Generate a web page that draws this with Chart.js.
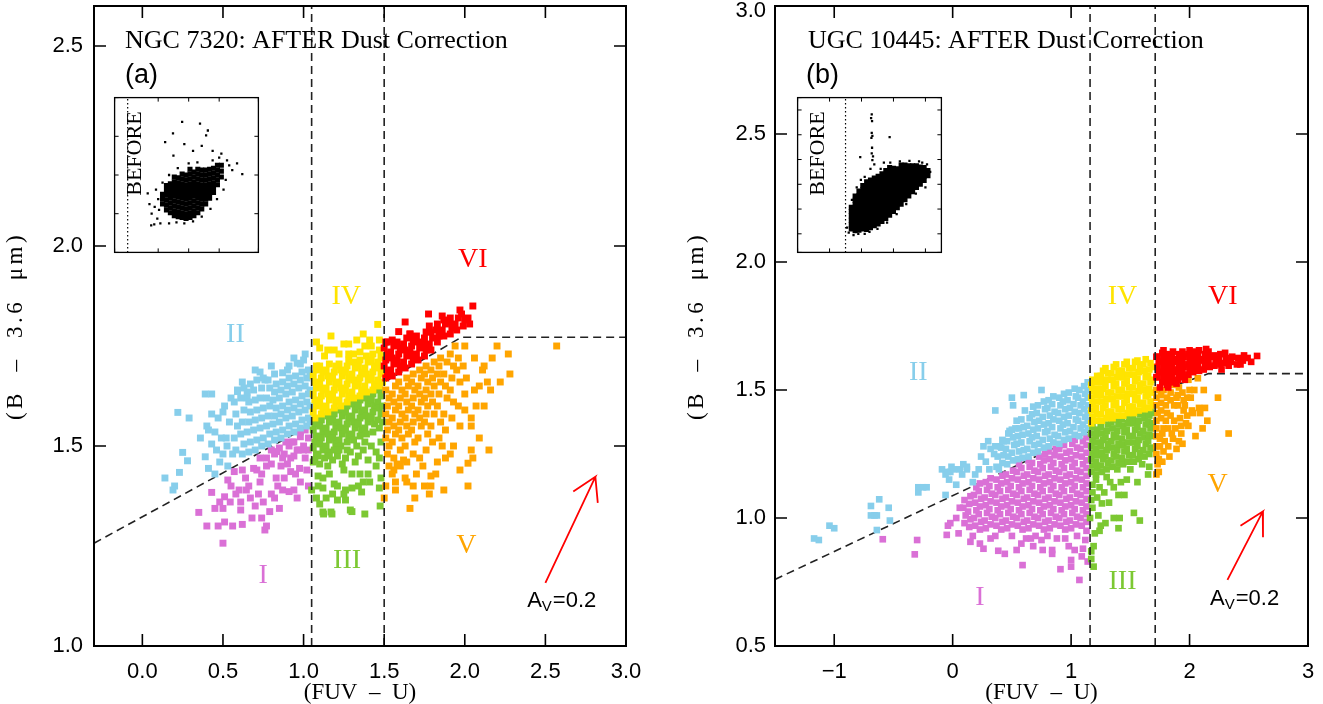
<!DOCTYPE html>
<html>
<head>
<meta charset="utf-8">
<script src="https://cdn.jsdelivr.net/npm/chart.js@4.4.0/dist/chart.umd.min.js"></script>
<style>
  body { margin: 0; background: #fff; width: 1323px; height: 704px; overflow: hidden; position: relative; }
  canvas { position: absolute; }
  .inset { background: #fff; }
</style>
</head>
<body>
<canvas id="ngc" width="660" height="704" style="left:0;top:0"></canvas>
<canvas id="ugc" width="663" height="704" style="left:660px;top:0"></canvas>
<canvas id="ngcIn" class="inset" width="151" height="162" style="left:111px;top:94px"></canvas>
<canvas id="ugcIn" class="inset" width="151" height="162" style="left:794px;top:94px"></canvas>
<script>
// ---- panel (a) NGC 7320, points as [FUV-U, B-3.6um] ----
const ngcII = [
  [0.14,1.42],[0.19,1.39],[0.20,1.40],[0.23,1.434],[0.25,1.484],[0.28,1.463],[0.22,1.584],[0.29,1.57],[0.39,1.63],[0.43,1.63],
  [0.39,1.473],[0.41,1.444],[0.45,1.43],[0.36,1.52],[0.40,1.55],[0.41,1.54],[0.43,1.58],[0.43,1.505],[0.49,1.52],[0.52,1.52],
  [0.525,1.50],[0.50,1.48],[0.48,1.46],[0.53,1.45],[0.59,1.636],[0.65,1.62],[0.76,1.665],[0.87,1.683],[0.94,1.72],[1.01,1.73],
  [0.96,1.707],[0.46,1.49],[0.47,1.57],[0.51,1.60],[0.54,1.56],[0.55,1.62],[0.50,1.585],[0.45,1.535],[0.56,1.48],[0.70,1.69],
  [0.80,1.70],[0.91,1.70],[1.00,1.715],[0.62,1.66],[0.73,1.685],
  [0.58,1.49],[0.57,1.52],[0.59,1.55],[0.58,1.58],[0.57,1.61],[0.59,1.64],
  [0.62,1.48],[0.63,1.505],[0.61,1.53],[0.62,1.56],[0.63,1.59],[0.61,1.62],[0.63,1.645],
  [0.66,1.485],[0.67,1.51],[0.65,1.535],[0.66,1.56],[0.67,1.585],[0.66,1.61],[0.65,1.635],[0.67,1.655],
  [0.70,1.49],[0.71,1.515],[0.69,1.54],[0.70,1.565],[0.71,1.59],[0.70,1.615],[0.69,1.64],[0.71,1.665],
  [0.74,1.50],[0.75,1.52],[0.73,1.545],[0.74,1.57],[0.75,1.595],[0.73,1.62],[0.74,1.645],[0.75,1.67],
  [0.78,1.505],[0.79,1.53],[0.77,1.55],[0.78,1.575],[0.79,1.60],[0.77,1.62],[0.79,1.645],[0.78,1.665],
  [0.82,1.515],[0.83,1.535],[0.81,1.555],[0.82,1.575],[0.83,1.595],[0.81,1.615],[0.82,1.635],[0.83,1.655],[0.82,1.68],
  [0.86,1.52],[0.87,1.54],[0.85,1.56],[0.86,1.58],[0.87,1.60],[0.85,1.62],[0.86,1.64],[0.87,1.66],
  [0.90,1.53],[0.91,1.55],[0.89,1.57],[0.90,1.59],[0.91,1.61],[0.89,1.63],[0.90,1.65],[0.91,1.67],[0.90,1.69],
  [0.94,1.535],[0.95,1.555],[0.93,1.575],[0.94,1.595],[0.95,1.615],[0.93,1.635],[0.94,1.655],[0.95,1.675],
  [0.98,1.545],[0.99,1.565],[0.97,1.585],[0.98,1.605],[0.99,1.625],[0.97,1.645],[0.98,1.665],[0.99,1.685],[0.98,1.705],
  [1.02,1.55],[1.03,1.57],[1.01,1.59],[1.02,1.61],[1.03,1.63],[1.01,1.65],[1.02,1.67],[1.03,1.69],
  [1.04,1.56],[1.04,1.60],[1.04,1.64],[1.04,1.68]
];
const ngcI = [
  [0.50,1.257],[0.35,1.334],[0.40,1.30],[0.47,1.30],[0.51,1.31],[0.56,1.30],[0.62,1.304],[0.76,1.29],[0.77,1.30],[0.74,1.32],
  [0.43,1.384],[0.45,1.344],[0.50,1.344],[0.51,1.373],[0.545,1.36],[0.61,1.34],[0.61,1.36],[0.645,1.39],[0.67,1.37],[0.70,1.35],
  [0.72,1.38],[0.75,1.36],[0.79,1.336],[0.80,1.38],[0.85,1.344],[0.87,1.39],[0.91,1.386],[0.94,1.39],[0.98,1.41],[0.53,1.415],
  [0.57,1.436],[0.69,1.444],[0.71,1.44],[0.77,1.45],[0.80,1.455],[0.86,1.45],[0.90,1.455],[0.92,1.436],[0.975,1.444],[0.835,1.486],
  [0.87,1.47],[0.80,1.49],[0.77,1.47],[0.91,1.50],[0.94,1.51],[0.98,1.523],[1.00,1.50],[1.01,1.54],[0.98,1.535],[1.00,1.49],
  [0.96,1.49],[0.82,1.48],[0.85,1.495],[0.88,1.48],[0.94,1.475],[0.97,1.49],[1.03,1.52],[1.03,1.49],[1.01,1.47],[0.93,1.51],
  [0.64,1.42],[0.66,1.40],[0.60,1.39],[0.73,1.41],[0.74,1.43],[0.83,1.42],[0.88,1.42],[0.95,1.43],[1.02,1.44],[0.58,1.38],
  [0.68,1.32],[0.82,1.37],[0.96,1.37],[1.03,1.40],[0.73,1.47],[0.62,1.44],[0.92,1.47],[0.89,1.51],[0.84,1.40],[0.55,1.40],[0.48,1.36]
];
const ngcIV = [
  [1.07,1.57],[1.06,1.585],[1.08,1.60],[1.07,1.615],[1.06,1.63],[1.08,1.645],[1.07,1.66],[1.06,1.675],[1.08,1.69],
  [1.11,1.58],[1.12,1.595],[1.10,1.61],[1.11,1.625],[1.12,1.64],[1.10,1.655],[1.11,1.67],[1.12,1.685],[1.10,1.70],
  [1.15,1.585],[1.14,1.60],[1.16,1.615],[1.15,1.63],[1.14,1.645],[1.16,1.66],[1.15,1.675],[1.14,1.69],[1.16,1.705],
  [1.19,1.595],[1.20,1.61],[1.18,1.625],[1.19,1.64],[1.20,1.655],[1.18,1.67],[1.19,1.685],[1.20,1.70],
  [1.23,1.60],[1.22,1.615],[1.24,1.63],[1.23,1.645],[1.22,1.66],[1.24,1.675],[1.23,1.69],[1.22,1.705],
  [1.27,1.61],[1.28,1.625],[1.26,1.64],[1.27,1.655],[1.28,1.67],[1.26,1.685],[1.27,1.70],[1.28,1.715],
  [1.31,1.62],[1.30,1.635],[1.32,1.65],[1.31,1.665],[1.30,1.68],[1.32,1.695],[1.31,1.71],
  [1.35,1.625],[1.36,1.64],[1.34,1.655],[1.35,1.67],[1.36,1.685],[1.34,1.70],[1.35,1.715],
  [1.39,1.635],[1.38,1.65],[1.40,1.665],[1.39,1.68],[1.38,1.695],[1.40,1.71],[1.39,1.725],
  [1.43,1.64],[1.44,1.655],[1.42,1.67],[1.43,1.685],[1.44,1.70],[1.42,1.715],[1.43,1.73],
  [1.47,1.65],[1.46,1.665],[1.48,1.68],[1.47,1.695],[1.46,1.71],[1.48,1.725],[1.47,1.74],
  [1.49,1.66],[1.49,1.69],[1.49,1.72],
  [1.46,1.804],[1.08,1.76],[1.15,1.74],[1.19,1.74],[1.25,1.755],[1.28,1.755],[1.33,1.765],[1.41,1.765],[1.47,1.765],[1.38,1.75],
  [1.42,1.75],[1.13,1.725],[1.08,1.70],[1.28,1.73],[1.31,1.73],[1.35,1.735],[1.10,1.745],[1.22,1.73],[1.17,1.775],[1.37,1.78]
];
const ngcIII = [
  [1.07,1.555],[1.06,1.54],[1.08,1.525],[1.07,1.51],[1.06,1.495],[1.08,1.48],
  [1.11,1.565],[1.10,1.55],[1.12,1.535],[1.11,1.52],[1.10,1.505],[1.12,1.49],
  [1.15,1.575],[1.16,1.56],[1.14,1.545],[1.15,1.53],[1.16,1.515],[1.14,1.50],[1.15,1.485],
  [1.19,1.58],[1.18,1.565],[1.20,1.55],[1.19,1.535],[1.18,1.52],[1.20,1.505],[1.19,1.49],
  [1.23,1.59],[1.24,1.575],[1.22,1.56],[1.23,1.545],[1.24,1.53],[1.22,1.515],[1.23,1.50],
  [1.27,1.60],[1.26,1.585],[1.28,1.57],[1.27,1.555],[1.26,1.54],[1.28,1.525],[1.27,1.51],
  [1.31,1.605],[1.32,1.59],[1.30,1.575],[1.31,1.56],[1.32,1.545],[1.30,1.53],[1.31,1.515],
  [1.35,1.615],[1.34,1.60],[1.36,1.585],[1.35,1.57],[1.34,1.555],[1.36,1.54],[1.35,1.525],
  [1.39,1.62],[1.40,1.605],[1.38,1.59],[1.39,1.575],[1.40,1.56],[1.38,1.545],[1.39,1.53],
  [1.43,1.63],[1.42,1.615],[1.44,1.60],[1.43,1.585],[1.42,1.57],[1.44,1.555],[1.43,1.535],
  [1.47,1.64],[1.48,1.625],[1.46,1.61],[1.47,1.595],[1.48,1.58],[1.46,1.565],[1.47,1.545],
  [1.49,1.60],[1.49,1.56],
  [1.07,1.465],[1.10,1.455],[1.13,1.47],[1.15,1.45],[1.18,1.465],[1.21,1.475],[1.24,1.455],[1.26,1.47],[1.29,1.485],[1.32,1.46],
  [1.34,1.475],[1.37,1.49],[1.40,1.465],[1.42,1.50],[1.45,1.485],[1.48,1.51],[1.47,1.47],[1.38,1.51],[1.33,1.50],[1.27,1.49],
  [1.22,1.49],[1.16,1.475],[1.09,1.475],
  [1.06,1.46],[1.12,1.42],[1.09,1.425],[1.16,1.43],[1.19,1.405],[1.25,1.44],[1.30,1.43],[1.35,1.43],[1.40,1.43],[1.45,1.45],
  [1.48,1.42],[1.37,1.41],[1.34,1.40],[1.30,1.395],[1.26,1.39],[1.21,1.40],[1.18,1.38],[1.12,1.395],[1.09,1.40],[1.05,1.39],
  [1.08,1.37],[1.14,1.37],[1.21,1.365],[1.26,1.365],[1.36,1.385],[1.47,1.395],[1.475,1.35],[1.12,1.335],[1.17,1.335],[1.29,1.34],
  [1.38,1.33],[1.25,1.38],[1.41,1.41],[1.10,1.355],[1.124,1.33],[1.176,1.33],[1.30,1.336]
];
const ngcVI = [
  [1.51,1.67],[1.52,1.685],[1.50,1.70],[1.51,1.715],[1.52,1.73],[1.50,1.745],[1.51,1.76],
  [1.55,1.675],[1.54,1.69],[1.56,1.705],[1.55,1.72],[1.54,1.735],[1.56,1.75],[1.55,1.765],
  [1.59,1.685],[1.60,1.70],[1.58,1.715],[1.59,1.73],[1.60,1.745],[1.58,1.76],
  [1.63,1.695],[1.62,1.71],[1.64,1.725],[1.63,1.74],[1.62,1.755],[1.64,1.77],
  [1.67,1.705],[1.68,1.72],[1.66,1.735],[1.67,1.75],[1.68,1.765],[1.66,1.78],
  [1.71,1.715],[1.70,1.73],[1.72,1.745],[1.71,1.76],[1.70,1.775],
  [1.75,1.725],[1.76,1.74],[1.74,1.755],[1.75,1.77],[1.76,1.785],
  [1.79,1.74],[1.78,1.755],[1.80,1.77],[1.79,1.785],[1.78,1.80],
  [1.83,1.76],[1.84,1.775],[1.82,1.79],[1.83,1.805],
  [1.87,1.775],[1.86,1.79],[1.88,1.805],[1.87,1.815],
  [1.91,1.78],[1.92,1.795],[1.90,1.81],[1.91,1.82],
  [1.95,1.79],[1.94,1.805],[1.96,1.82],
  [1.99,1.80],[2.00,1.815],[1.98,1.83],
  [2.03,1.805],[2.02,1.82],
  [2.05,1.85],[1.775,1.83],[1.86,1.825],[1.63,1.81],[1.59,1.786],[1.66,1.78],[1.52,1.76],[1.97,1.84]
];
const ngcV = [
  [1.52,1.48],[1.53,1.50],[1.51,1.52],[1.52,1.54],[1.53,1.56],[1.51,1.58],[1.52,1.60],[1.53,1.62],[1.51,1.64],
  [1.56,1.47],[1.55,1.51],[1.57,1.53],[1.56,1.55],[1.55,1.57],[1.57,1.59],[1.56,1.61],[1.55,1.63],[1.57,1.65],
  [1.60,1.49],[1.61,1.52],[1.59,1.54],[1.60,1.56],[1.61,1.58],[1.59,1.60],[1.60,1.62],[1.61,1.64],[1.59,1.66],
  [1.64,1.46],[1.63,1.50],[1.65,1.53],[1.64,1.55],[1.63,1.57],[1.65,1.59],[1.64,1.61],[1.63,1.63],[1.65,1.65],[1.64,1.67],
  [1.68,1.48],[1.69,1.51],[1.67,1.54],[1.68,1.56],[1.69,1.58],[1.67,1.60],[1.68,1.62],[1.69,1.64],[1.67,1.66],[1.68,1.68],
  [1.72,1.47],[1.71,1.52],[1.73,1.55],[1.72,1.57],[1.71,1.59],[1.73,1.61],[1.72,1.63],[1.71,1.65],[1.73,1.67],[1.72,1.69],
  [1.76,1.49],[1.77,1.53],[1.75,1.56],[1.76,1.58],[1.77,1.60],[1.75,1.62],[1.76,1.64],[1.77,1.66],[1.75,1.68],[1.76,1.70],
  [1.80,1.51],[1.79,1.55],[1.81,1.58],[1.80,1.61],[1.79,1.63],[1.81,1.65],[1.80,1.67],[1.79,1.69],[1.81,1.71],
  [1.84,1.52],[1.85,1.56],[1.83,1.60],[1.84,1.63],[1.85,1.66],[1.83,1.68],[1.84,1.70],[1.85,1.72],
  [1.88,1.54],[1.87,1.58],[1.89,1.62],[1.88,1.65],[1.87,1.68],[1.89,1.71],
  [1.92,1.57],[1.93,1.61],[1.91,1.64],[1.92,1.67],[1.93,1.70],[1.91,1.73],
  [1.96,1.60],[1.97,1.66],[1.95,1.69],[1.96,1.72],
  [2.00,1.63],[2.01,1.67],[1.99,1.70],
  [2.20,1.75],[2.27,1.73],[2.28,1.68],[2.22,1.66],[2.17,1.72],[2.11,1.69],[2.14,1.66],[2.16,1.64],[2.06,1.64],[2.07,1.60],
  [2.04,1.57],[2.04,1.55],[2.15,1.49],[2.04,1.49],[2.05,1.47],[2.02,1.457],[1.97,1.44],[2.02,1.40],[1.87,1.39],[1.78,1.38],
  [1.68,1.40],[1.69,1.37],[1.66,1.344],[1.50,1.37],[1.51,1.40],[1.57,1.39],[1.57,1.41],[1.63,1.42],[1.64,1.41],[1.56,1.44],
  [1.79,1.425],[1.79,1.40],[1.82,1.43],[2.57,1.75],[1.55,1.43],[1.60,1.45],[1.70,1.43],[1.74,1.45],[1.83,1.46],[1.88,1.47],
  [1.58,1.455],[1.53,1.45],[1.62,1.465],[1.75,1.40],[1.93,1.50],[1.97,1.55],[2.00,1.59],[2.09,1.65],[2.12,1.70],[2.06,1.72],
  [1.94,1.75],[2.00,1.75],[2.12,1.60],[1.91,1.48],[1.86,1.50],[2.09,1.52]
];
const ngcBeforeCore = [
  [0.80,1.50],[0.80,1.55],[0.80,1.60],
  [0.89,1.44],[0.89,1.49],[0.89,1.54],[0.89,1.59],[0.89,1.64],[0.89,1.69],
  [0.98,1.41],[0.98,1.46],[0.98,1.51],[0.98,1.56],[0.98,1.61],[0.98,1.66],[0.98,1.71],
  [1.07,1.38],[1.07,1.43],[1.07,1.48],[1.07,1.53],[1.07,1.58],[1.07,1.63],[1.07,1.68],[1.07,1.73],[1.07,1.78],
  [1.16,1.37],[1.16,1.42],[1.16,1.47],[1.16,1.52],[1.16,1.57],[1.16,1.62],[1.16,1.67],[1.16,1.72],[1.16,1.77],
  [1.25,1.36],[1.25,1.41],[1.25,1.46],[1.25,1.51],[1.25,1.56],[1.25,1.61],[1.25,1.66],[1.25,1.71],[1.25,1.76],[1.25,1.81],
  [1.34,1.35],[1.34,1.40],[1.34,1.45],[1.34,1.50],[1.34,1.55],[1.34,1.60],[1.34,1.65],[1.34,1.70],[1.34,1.75],[1.34,1.80],
  [1.43,1.36],[1.43,1.41],[1.43,1.46],[1.43,1.51],[1.43,1.56],[1.43,1.61],[1.43,1.66],[1.43,1.71],[1.43,1.76],[1.43,1.81],[1.43,1.86],
  [1.52,1.38],[1.52,1.43],[1.52,1.48],[1.52,1.53],[1.52,1.58],[1.52,1.63],[1.52,1.68],[1.52,1.73],[1.52,1.78],[1.52,1.83],
  [1.61,1.41],[1.61,1.46],[1.61,1.51],[1.61,1.56],[1.61,1.61],[1.61,1.66],[1.61,1.71],[1.61,1.76],[1.61,1.81],[1.61,1.86],
  [1.70,1.45],[1.70,1.50],[1.70,1.55],[1.70,1.60],[1.70,1.65],[1.70,1.70],[1.70,1.75],[1.70,1.80],[1.70,1.85],
  [1.79,1.50],[1.79,1.55],[1.79,1.60],[1.79,1.65],[1.79,1.70],[1.79,1.75],[1.79,1.80],[1.79,1.85],
  [1.88,1.56],[1.88,1.61],[1.88,1.66],[1.88,1.71],[1.88,1.76],[1.88,1.81],[1.88,1.86],
  [1.97,1.62],[1.97,1.67],[1.97,1.72],[1.97,1.77],[1.97,1.82],[1.97,1.87],
  [2.06,1.70],[2.06,1.75],[2.06,1.80],[2.06,1.85],[2.06,1.90],
  [2.15,1.78],[2.15,1.84],[2.15,1.90]
];
const ngcBeforeOuter = [
  [1.25,2.35],[1.66,2.33],[1.04,2.23],[0.86,2.14],[1.84,2.26],[1.80,2.21],[2.51,1.92],[2.63,1.81],[2.33,1.90],[0.46,1.61],
  [0.54,1.28],[0.61,1.29],[0.55,1.40],[0.62,1.47],[0.68,1.35],[0.70,1.55],[0.72,1.44],[0.75,1.30],[0.95,1.30],[1.12,1.31],
  [1.30,1.30],[1.50,1.32],[1.70,1.37],[1.90,1.45],[2.05,1.55],[2.20,1.65],[2.25,1.75],[2.40,1.85],[2.28,1.95],[2.10,1.98],
  [1.95,1.95],[1.60,1.93],[1.40,1.92],[1.15,1.87],[0.95,1.80],[0.80,1.72],[1.05,2.00],[1.50,2.05],[1.70,2.10],[1.30,2.12],
  [1.95,2.05],[2.15,2.02],[0.65,1.65],[0.50,1.50]
];
const ngcXTicks = [0, 0.5, 1, 1.5, 2, 2.5, 3];
const ngcXLabels = ['0.0', '0.5', '1.0', '1.5', '2.0', '2.5', '3.0'];
const ngcYTicks = [1, 1.5, 2, 2.5];
const ngcYLabels = ['1.0', '1.5', '2.0', '2.5'];
const ngcCuts = [[1.05, 1.0], [1.05, 2.6]];
const ngcCuts2 = [[1.5, 1.0], [1.5, 2.6]];
const ngcDiag = [[-0.3, 1.257], [1.05, 1.554]];
const ngcBreak = [[1.5, 1.66], [1.98, 1.772], [3.0, 1.772]];
const ngcArrow = [[2.50, 1.158], [2.81, 1.423], [2.673, 1.386], [2.81, 1.423], [2.825, 1.358]];
const ngcRomanX = [0.75, 0.577, 1.27, 1.265, 2.01, 2.05];
const ngcRomanY = [1.175, 1.7775, 1.2125, 1.8725, 1.25, 1.965];

// ---- panel (b) UGC 10445 ----
const ugcII = [
  [-1.17,0.92],[-1.13,0.914],[-1.04,0.97],[-1.00,0.96],[-0.69,1.047],[-0.62,1.073],[-0.54,1.04],[-0.69,1.01],[-0.66,1.01],[-0.64,1.01],
  [-0.53,0.99],[-0.64,0.953],[-0.29,1.12],[-0.25,1.12],[-0.22,1.12],[-0.29,1.10],[-0.06,1.09],[-0.09,1.19],[-0.06,1.17],[-0.04,1.18],
  [-0.02,1.18],[-0.01,1.20],[-0.03,1.15],[0.03,1.13],[0.06,1.19],[0.09,1.21],[0.12,1.19],[0.08,1.17],[0.22,1.19],[0.17,1.14],
  [0.01,1.19],[0.12,1.20],[0.31,1.19],[0.39,1.19],[0.26,1.28],[0.30,1.30],[0.32,1.27],[0.40,1.28],[0.43,1.30],[0.48,1.34],
  [0.53,1.35],[0.36,1.42],[0.50,1.47],[0.51,1.44],[0.60,1.48],[0.61,1.42],[0.75,1.50],[0.28,1.22],[0.24,1.24],[0.35,1.25],[0.19,1.17],
  [0.37,1.20],[0.38,1.24],[0.36,1.28],
  [0.42,1.215],[0.43,1.245],[0.41,1.275],[0.42,1.305],
  [0.46,1.21],[0.47,1.24],[0.45,1.27],[0.46,1.30],[0.47,1.33],
  [0.51,1.225],[0.50,1.255],[0.52,1.285],[0.51,1.315],[0.50,1.345],
  [0.55,1.23],[0.56,1.26],[0.54,1.29],[0.55,1.32],[0.56,1.35],[0.54,1.38],
  [0.59,1.235],[0.60,1.265],[0.58,1.295],[0.59,1.325],[0.60,1.355],[0.58,1.385],
  [0.64,1.24],[0.63,1.27],[0.65,1.30],[0.64,1.33],[0.63,1.36],[0.65,1.39],
  [0.68,1.255],[0.69,1.285],[0.67,1.315],[0.68,1.345],[0.69,1.375],[0.67,1.405],[0.68,1.435],
  [0.72,1.26],[0.73,1.29],[0.71,1.32],[0.72,1.35],[0.73,1.38],[0.71,1.41],[0.72,1.44],
  [0.77,1.275],[0.76,1.305],[0.78,1.335],[0.77,1.365],[0.76,1.395],[0.78,1.425],[0.77,1.455],
  [0.81,1.28],[0.82,1.31],[0.80,1.34],[0.81,1.37],[0.82,1.40],[0.80,1.43],[0.81,1.46],
  [0.85,1.295],[0.86,1.325],[0.84,1.355],[0.85,1.385],[0.86,1.415],[0.84,1.445],[0.85,1.475],
  [0.90,1.29],[0.89,1.32],[0.91,1.35],[0.90,1.38],[0.89,1.41],[0.91,1.44],[0.90,1.47],
  [0.94,1.305],[0.95,1.335],[0.93,1.365],[0.94,1.395],[0.95,1.425],[0.93,1.455],[0.94,1.485],
  [0.98,1.31],[0.99,1.34],[0.97,1.37],[0.98,1.40],[0.99,1.43],[0.97,1.46],[0.98,1.49],
  [1.03,1.325],[1.02,1.355],[1.04,1.385],[1.03,1.415],[1.02,1.445],[1.04,1.475],[1.03,1.505],
  [1.07,1.32],[1.08,1.35],[1.06,1.38],[1.07,1.41],[1.08,1.44],[1.06,1.47],[1.07,1.50],
  [1.11,1.335],[1.10,1.365],[1.12,1.395],[1.11,1.425],[1.10,1.455],[1.12,1.485],[1.11,1.515],
  [1.14,1.35],[1.14,1.38],[1.14,1.41],[1.14,1.44],[1.14,1.47],[1.14,1.50],[1.14,1.53]
];
const ugcI = [
  [0.10,0.98],[0.11,1.01],[0.09,1.04],[0.10,1.07],
  [0.14,0.965],[0.15,0.995],[0.13,1.025],[0.14,1.055],[0.15,1.085],
  [0.19,0.97],[0.18,1.00],[0.20,1.03],[0.19,1.06],[0.18,1.09],[0.20,1.12],
  [0.23,0.955],[0.24,0.985],[0.22,1.015],[0.23,1.045],[0.24,1.075],[0.22,1.105],[0.23,1.135],
  [0.28,0.96],[0.27,0.99],[0.29,1.02],[0.28,1.05],[0.27,1.08],[0.29,1.11],[0.28,1.14],
  [0.32,0.975],[0.33,1.005],[0.31,1.035],[0.32,1.065],[0.33,1.095],[0.31,1.125],[0.32,1.155],
  [0.37,0.97],[0.36,1.00],[0.38,1.03],[0.37,1.06],[0.36,1.09],[0.38,1.12],[0.37,1.15],
  [0.41,0.955],[0.42,0.985],[0.40,1.015],[0.41,1.045],[0.42,1.075],[0.40,1.105],[0.41,1.135],[0.42,1.165],
  [0.46,0.96],[0.45,0.99],[0.47,1.02],[0.46,1.05],[0.45,1.08],[0.47,1.11],[0.46,1.14],[0.45,1.17],
  [0.50,0.975],[0.51,1.005],[0.49,1.035],[0.50,1.065],[0.51,1.095],[0.49,1.125],[0.50,1.155],[0.51,1.185],
  [0.55,0.97],[0.54,1.00],[0.56,1.03],[0.55,1.06],[0.54,1.09],[0.56,1.12],[0.55,1.15],[0.54,1.18],[0.56,1.21],
  [0.59,0.955],[0.60,0.985],[0.58,1.015],[0.59,1.045],[0.60,1.075],[0.58,1.105],[0.59,1.135],[0.60,1.165],[0.58,1.195],
  [0.64,0.96],[0.63,0.99],[0.65,1.02],[0.64,1.05],[0.63,1.08],[0.65,1.11],[0.64,1.14],[0.63,1.17],[0.65,1.20],[0.64,1.225],
  [0.68,0.975],[0.69,1.005],[0.67,1.035],[0.68,1.065],[0.69,1.095],[0.67,1.125],[0.68,1.155],[0.69,1.185],[0.67,1.215],
  [0.73,0.97],[0.72,1.00],[0.74,1.03],[0.73,1.06],[0.72,1.09],[0.74,1.12],[0.73,1.15],[0.72,1.18],[0.74,1.21],[0.73,1.24],
  [0.77,0.955],[0.78,0.985],[0.76,1.015],[0.77,1.045],[0.78,1.075],[0.76,1.105],[0.77,1.135],[0.78,1.165],[0.76,1.195],[0.77,1.225],[0.78,1.25],
  [0.82,0.96],[0.81,0.99],[0.83,1.02],[0.82,1.05],[0.81,1.08],[0.83,1.11],[0.82,1.14],[0.81,1.17],[0.83,1.20],[0.82,1.23],[0.81,1.26],
  [0.86,0.975],[0.87,1.005],[0.85,1.035],[0.86,1.065],[0.87,1.095],[0.85,1.125],[0.86,1.155],[0.87,1.185],[0.85,1.215],[0.86,1.245],[0.87,1.27],
  [0.91,0.97],[0.90,1.00],[0.92,1.03],[0.91,1.06],[0.90,1.09],[0.92,1.12],[0.91,1.15],[0.90,1.18],[0.92,1.21],[0.91,1.24],[0.90,1.27],
  [0.95,0.955],[0.96,0.985],[0.94,1.015],[0.95,1.045],[0.96,1.075],[0.94,1.105],[0.95,1.135],[0.96,1.165],[0.94,1.195],[0.95,1.225],[0.96,1.255],[0.94,1.285],
  [1.00,0.96],[0.99,0.99],[1.01,1.02],[1.00,1.05],[0.99,1.08],[1.01,1.11],[1.00,1.14],[0.99,1.17],[1.01,1.20],[1.00,1.23],[0.99,1.26],[1.01,1.29],
  [1.04,0.975],[1.05,1.005],[1.03,1.035],[1.04,1.065],[1.05,1.095],[1.03,1.125],[1.04,1.155],[1.05,1.185],[1.03,1.215],[1.04,1.245],[1.05,1.275],[1.03,1.305],
  [1.09,0.97],[1.08,1.00],[1.10,1.03],[1.09,1.06],[1.08,1.09],[1.10,1.12],[1.09,1.15],[1.08,1.18],[1.10,1.21],[1.09,1.24],[1.08,1.27],[1.10,1.30],
  [1.13,0.985],[1.13,1.015],[1.13,1.045],[1.13,1.075],[1.13,1.105],[1.13,1.135],[1.13,1.165],[1.13,1.195],[1.13,1.225],[1.13,1.255],[1.13,1.285],[1.13,1.315],
  [-0.02,0.98],[-0.05,0.934],[-0.30,0.914],[-0.32,0.858],[0.15,0.907],[0.23,0.90],[0.385,0.872],[0.44,0.86],[0.54,0.875],[0.59,0.816],
  [0.66,0.92],[0.75,0.914],[0.76,0.875],[0.84,0.875],[0.84,0.86],[0.88,0.92],[1.00,0.836],[1.00,0.81],[0.91,0.80],[1.03,0.875],
  [1.07,0.758],[1.12,0.914],[1.09,0.85],[-0.59,0.917],[-0.04,0.97],[0.05,0.94],[0.26,0.88],[0.32,0.92],[0.17,0.93],[0.36,0.93],
  [0.50,0.93],[0.62,0.92],[0.70,0.93],[0.80,0.93],[0.95,0.92],[1.05,0.93],[1.13,0.95],[0.98,0.89],[1.10,0.88],[0.68,0.89],
  [0.58,0.90],[0.03,1.00],[0.06,1.04],[1.14,0.83]
];
const ugcIV = [
  [1.17,1.37],[1.18,1.395],[1.17,1.42],[1.18,1.445],[1.17,1.47],[1.18,1.495],[1.17,1.52],[1.18,1.54],
  [1.21,1.38],[1.22,1.405],[1.21,1.43],[1.22,1.455],[1.21,1.48],[1.22,1.505],[1.21,1.53],[1.22,1.555],
  [1.26,1.38],[1.25,1.405],[1.27,1.43],[1.26,1.455],[1.25,1.48],[1.27,1.505],[1.26,1.53],[1.25,1.555],[1.27,1.575],
  [1.30,1.39],[1.31,1.415],[1.29,1.44],[1.30,1.465],[1.31,1.49],[1.29,1.515],[1.30,1.54],[1.31,1.565],[1.29,1.585],
  [1.35,1.39],[1.34,1.415],[1.36,1.44],[1.35,1.465],[1.34,1.49],[1.36,1.515],[1.35,1.54],[1.34,1.565],[1.36,1.59],
  [1.39,1.40],[1.40,1.425],[1.38,1.45],[1.39,1.475],[1.40,1.50],[1.38,1.525],[1.39,1.55],[1.40,1.575],[1.38,1.60],
  [1.44,1.40],[1.43,1.425],[1.45,1.45],[1.44,1.475],[1.43,1.50],[1.45,1.525],[1.44,1.55],[1.43,1.575],[1.45,1.60],
  [1.48,1.41],[1.49,1.435],[1.47,1.46],[1.48,1.485],[1.49,1.51],[1.47,1.535],[1.48,1.56],[1.49,1.585],[1.47,1.61],
  [1.53,1.41],[1.52,1.435],[1.54,1.46],[1.53,1.485],[1.52,1.51],[1.54,1.535],[1.53,1.56],[1.52,1.585],[1.54,1.61],
  [1.57,1.42],[1.58,1.445],[1.56,1.47],[1.57,1.495],[1.58,1.52],[1.56,1.545],[1.57,1.57],[1.58,1.595],[1.56,1.615],
  [1.62,1.425],[1.61,1.45],[1.63,1.475],[1.62,1.50],[1.61,1.525],[1.63,1.55],[1.62,1.575],[1.61,1.60],[1.63,1.62],
  [1.66,1.43],[1.67,1.455],[1.65,1.48],[1.66,1.505],[1.67,1.53],[1.65,1.555],[1.66,1.58],[1.67,1.605],
  [1.69,1.44],[1.69,1.49],[1.69,1.54],[1.69,1.59]
];
const ugcIII = [
  [1.17,1.18],[1.18,1.205],[1.17,1.23],[1.18,1.255],[1.17,1.28],[1.18,1.305],[1.17,1.33],[1.18,1.355],
  [1.21,1.17],[1.22,1.195],[1.21,1.22],[1.22,1.245],[1.21,1.27],[1.22,1.295],[1.21,1.32],[1.22,1.345],
  [1.26,1.18],[1.25,1.205],[1.27,1.23],[1.26,1.255],[1.25,1.28],[1.27,1.305],[1.26,1.33],[1.25,1.355],
  [1.30,1.19],[1.31,1.215],[1.29,1.24],[1.30,1.265],[1.31,1.29],[1.29,1.315],[1.30,1.34],[1.31,1.365],
  [1.35,1.20],[1.34,1.225],[1.36,1.25],[1.35,1.275],[1.34,1.30],[1.36,1.325],[1.35,1.35],[1.34,1.375],
  [1.39,1.19],[1.40,1.215],[1.38,1.24],[1.39,1.265],[1.40,1.29],[1.38,1.315],[1.39,1.34],[1.40,1.365],[1.38,1.385],
  [1.44,1.21],[1.43,1.235],[1.45,1.26],[1.44,1.285],[1.43,1.31],[1.45,1.335],[1.44,1.36],[1.43,1.385],
  [1.48,1.22],[1.49,1.245],[1.47,1.27],[1.48,1.295],[1.49,1.32],[1.47,1.345],[1.48,1.37],[1.49,1.395],
  [1.53,1.22],[1.52,1.245],[1.54,1.27],[1.53,1.295],[1.52,1.32],[1.54,1.345],[1.53,1.37],[1.52,1.395],
  [1.57,1.23],[1.58,1.255],[1.56,1.28],[1.57,1.305],[1.58,1.33],[1.56,1.355],[1.57,1.38],[1.58,1.405],
  [1.62,1.24],[1.61,1.265],[1.63,1.29],[1.62,1.315],[1.61,1.34],[1.63,1.365],[1.62,1.39],[1.61,1.415],
  [1.66,1.25],[1.67,1.275],[1.65,1.30],[1.66,1.325],[1.67,1.35],[1.65,1.375],[1.66,1.40],[1.67,1.42],
  [1.69,1.27],[1.69,1.32],[1.69,1.37],[1.69,1.41],
  [1.17,1.07],[1.18,1.04],[1.16,1.00],[1.26,1.057],[1.28,1.10],[1.24,1.12],[1.36,1.12],[1.40,1.09],[1.45,1.09],[1.53,1.02],
  [1.58,0.99],[1.41,1.00],[1.36,1.00],[1.29,0.98],[1.24,0.95],[1.25,0.97],[1.20,0.94],[1.19,0.89],[1.17,0.87],[1.40,0.96],
  [1.65,1.17],[1.56,1.14],[1.47,1.15],[1.42,1.14],[1.33,1.14],[1.18,1.13],[1.21,1.15],[1.30,1.16],[1.50,1.19],[1.60,1.21],
  [1.18,1.10],[1.22,1.08],[1.32,1.06],[1.17,0.84],[1.19,0.81],[1.23,1.01],[1.66,1.20]
];
const ugcVI = [
  [1.73,1.55],[1.74,1.57],[1.73,1.59],[1.74,1.61],[1.73,1.63],
  [1.77,1.53],[1.78,1.55],[1.77,1.57],[1.78,1.59],[1.77,1.61],[1.78,1.63],[1.77,1.645],
  [1.81,1.52],[1.82,1.54],[1.81,1.56],[1.82,1.58],[1.81,1.60],[1.82,1.62],[1.81,1.64],
  [1.86,1.53],[1.85,1.55],[1.86,1.57],[1.85,1.59],[1.86,1.61],[1.85,1.63],[1.86,1.65],
  [1.90,1.54],[1.91,1.56],[1.90,1.58],[1.91,1.60],[1.90,1.62],[1.91,1.64],
  [1.95,1.55],[1.94,1.57],[1.95,1.59],[1.94,1.61],[1.95,1.63],[1.94,1.65],
  [1.99,1.56],[2.00,1.58],[1.99,1.60],[2.00,1.62],[1.99,1.64],[2.00,1.655],
  [2.03,1.57],[2.04,1.59],[2.03,1.61],[2.04,1.63],[2.03,1.65],
  [2.08,1.575],[2.07,1.595],[2.08,1.615],[2.07,1.635],[2.08,1.655],
  [2.12,1.58],[2.13,1.60],[2.12,1.62],[2.13,1.64],
  [2.17,1.59],[2.16,1.61],[2.17,1.63],[2.16,1.65],
  [2.21,1.595],[2.22,1.615],[2.21,1.635],
  [2.26,1.60],[2.25,1.62],[2.26,1.64],
  [2.30,1.605],[2.31,1.625],[2.30,1.645],
  [2.35,1.61],[2.36,1.63],
  [2.40,1.60],[2.41,1.625],
  [2.45,1.615],[2.46,1.635],
  [2.57,1.633],[2.52,1.61],[2.49,1.625],[2.43,1.60],[2.27,1.58],[1.96,1.54],[1.89,1.525],[1.82,1.51],[1.75,1.51],[1.72,1.55],
  [1.72,1.63],[1.78,1.655],[2.14,1.66],[2.33,1.595]
];
const ugcV = [
  [2.07,1.546],[2.12,1.50],[2.24,1.47],[2.33,1.33],[2.05,1.32],[2.11,1.35],[2.15,1.38],[2.09,1.41],[2.02,1.42],[2.13,1.43],
  [2.04,1.50],[1.98,1.47],[1.94,1.49],[1.96,1.44],[1.90,1.44],[1.97,1.37],[1.93,1.33],[1.94,1.29],[1.85,1.33],[1.78,1.35],
  [1.75,1.28],[1.78,1.26],[1.83,1.24],[1.72,1.28],[1.72,1.44],[1.73,1.41],[1.81,1.41],[1.87,1.44],[1.89,1.47],[1.84,1.49],
  [1.78,1.50],[1.81,1.47],[1.86,1.52],[1.91,1.51],[1.99,1.54],[1.86,1.31],[1.79,1.30],[1.72,1.17],[1.74,1.18],[1.91,1.30],
  [1.95,1.42],[2.03,1.41],[2.08,1.43],[1.72,1.47],[1.72,1.50],[1.72,1.38],[1.72,1.35],[1.72,1.32],[1.76,1.45],[1.76,1.48],
  [1.76,1.42],[1.76,1.39],[1.77,1.33],[1.75,1.31],[1.80,1.44],[1.80,1.38],[1.82,1.35],[1.84,1.40],[1.84,1.46],[1.87,1.38],
  [1.88,1.35],[1.90,1.48],[1.92,1.39],[1.95,1.46],[1.98,1.40],[2.00,1.50],[1.82,1.28],[1.74,1.23],[1.73,1.21],[1.77,1.22],
  [1.89,1.27],[1.99,1.36],[1.93,1.36],[2.01,1.47],[1.72,1.25]
];
const ugcBeforeCore = [
  [0.18,0.88],[0.18,0.95],[0.18,1.02],[0.18,1.09],[0.18,1.16],[0.18,1.23],
  [0.30,0.85],[0.30,0.92],[0.30,0.99],[0.30,1.06],[0.30,1.13],[0.30,1.20],[0.30,1.27],[0.30,1.34],[0.30,1.41],
  [0.42,0.86],[0.42,0.93],[0.42,1.00],[0.42,1.07],[0.42,1.14],[0.42,1.21],[0.42,1.28],[0.42,1.35],[0.42,1.42],[0.42,1.49],
  [0.54,0.88],[0.54,0.95],[0.54,1.02],[0.54,1.09],[0.54,1.16],[0.54,1.23],[0.54,1.30],[0.54,1.37],[0.54,1.44],[0.54,1.51],[0.54,1.58],
  [0.66,0.87],[0.66,0.94],[0.66,1.01],[0.66,1.08],[0.66,1.15],[0.66,1.22],[0.66,1.29],[0.66,1.36],[0.66,1.43],[0.66,1.50],[0.66,1.57],[0.66,1.64],
  [0.78,0.90],[0.78,0.97],[0.78,1.04],[0.78,1.11],[0.78,1.18],[0.78,1.25],[0.78,1.32],[0.78,1.39],[0.78,1.46],[0.78,1.53],[0.78,1.60],[0.78,1.67],
  [0.90,0.93],[0.90,1.00],[0.90,1.07],[0.90,1.14],[0.90,1.21],[0.90,1.28],[0.90,1.35],[0.90,1.42],[0.90,1.49],[0.90,1.56],[0.90,1.63],[0.90,1.70],
  [1.02,0.96],[1.02,1.03],[1.02,1.10],[1.02,1.17],[1.02,1.24],[1.02,1.31],[1.02,1.38],[1.02,1.45],[1.02,1.52],[1.02,1.59],[1.02,1.66],[1.02,1.73],
  [1.14,1.00],[1.14,1.07],[1.14,1.14],[1.14,1.21],[1.14,1.28],[1.14,1.35],[1.14,1.42],[1.14,1.49],[1.14,1.56],[1.14,1.63],[1.14,1.70],[1.14,1.77],
  [1.26,1.05],[1.26,1.12],[1.26,1.19],[1.26,1.26],[1.26,1.33],[1.26,1.40],[1.26,1.47],[1.26,1.54],[1.26,1.61],[1.26,1.68],[1.26,1.75],[1.26,1.82],
  [1.38,1.10],[1.38,1.17],[1.38,1.24],[1.38,1.31],[1.38,1.38],[1.38,1.45],[1.38,1.52],[1.38,1.59],[1.38,1.66],[1.38,1.73],[1.38,1.80],[1.38,1.87],
  [1.50,1.16],[1.50,1.23],[1.50,1.30],[1.50,1.37],[1.50,1.44],[1.50,1.51],[1.50,1.58],[1.50,1.65],[1.50,1.72],[1.50,1.79],[1.50,1.86],
  [1.62,1.22],[1.62,1.29],[1.62,1.36],[1.62,1.43],[1.62,1.50],[1.62,1.57],[1.62,1.64],[1.62,1.71],[1.62,1.78],[1.62,1.85],
  [1.74,1.28],[1.74,1.35],[1.74,1.42],[1.74,1.49],[1.74,1.56],[1.74,1.63],[1.74,1.70],[1.74,1.77],[1.74,1.84],[1.74,1.91],
  [1.86,1.35],[1.86,1.42],[1.86,1.49],[1.86,1.56],[1.86,1.63],[1.86,1.70],[1.86,1.77],[1.86,1.84],[1.86,1.91],
  [1.98,1.41],[1.98,1.48],[1.98,1.55],[1.98,1.62],[1.98,1.69],[1.98,1.76],[1.98,1.83],[1.98,1.90],
  [2.10,1.48],[2.10,1.55],[2.10,1.62],[2.10,1.69],[2.10,1.76],[2.10,1.83],[2.10,1.90],
  [2.22,1.55],[2.22,1.62],[2.22,1.69],[2.22,1.76],[2.22,1.83],[2.22,1.90],
  [2.34,1.60],[2.34,1.67],[2.34,1.74],[2.34,1.81],[2.34,1.88],
  [2.46,1.66],[2.46,1.73],[2.46,1.80],[2.46,1.87],
  [2.58,1.74],[2.58,1.82]
];
const ugcBeforeOuter = [
  [0.82,2.73],[0.80,2.67],[0.83,2.62],[0.82,2.43],[0.84,2.38],[0.81,2.35],[0.83,2.19],[0.82,2.10],[0.84,1.99],[1.38,2.36],
  [0.46,2.04],[0.86,2.05],[0.78,1.85],[0.90,1.92],
  [0.05,0.90],[0.10,0.82],[0.25,0.78],[0.40,0.80],[0.60,0.80],[0.75,0.83],[1.00,0.88],[1.30,0.98],[1.60,1.12],[1.90,1.28],
  [2.20,1.45],[2.50,1.55],[2.65,1.80],[2.55,1.92],[2.30,1.97],[2.00,1.98],[1.70,1.97],[1.40,1.95],[1.10,1.85],[0.60,1.72],
  [0.35,1.55],[0.20,1.35],[1.20,1.95],[2.40,1.95],[0.48,1.67]
];
const ugcXTicks = [-1, 0, 1, 2, 3];
const ugcXLabels = ['\u22121', '0', '1', '2', '3'];
const ugcYTicks = [0.5, 1, 1.5, 2, 2.5, 3];
const ugcYLabels = ['0.5', '1.0', '1.5', '2.0', '2.5', '3.0'];
const ugcCuts = [[1.16, 0.5], [1.16, 3.0]];
const ugcCuts2 = [[1.71, 0.5], [1.71, 3.0]];
const ugcDiag = [[-1.5, 0.76], [1.16, 1.34]];
const ugcBreak = [[1.71, 1.49], [2.16, 1.564], [3.0, 1.564]];
const ugcArrow = [[2.32, 0.758], [2.618, 1.025], [2.43, 0.97], [2.618, 1.025], [2.62, 0.925]];
const ugcRomanX = [0.23, -0.29, 1.434, 1.434, 2.236, 2.28];
const ugcRomanY = [0.69, 1.568, 0.75, 1.863, 1.129, 1.864];

const romanText = ['I', 'II', 'III', 'IV', 'V', 'VI'];
const regionColors = ['#DA70D6', '#87CEEB', '#7CC832', '#FFE400', '#FFA500', '#FF0000'];

// ---------- helpers ----------
const xy = arr => arr.map(p => ({x: p[0], y: p[1]}));

function dots(arr, color, r, order) {
  return {data: xy(arr), pointStyle: 'rect', pointRadius: r, pointHoverRadius: r,
          backgroundColor: color, borderWidth: 0, showLine: false, order: order};
}
function line(arr, color, width, dash, order) {
  return {data: xy(arr), showLine: true, pointRadius: 0, borderColor: color, borderWidth: width,
          borderDash: dash, fill: false, order: order};
}
function labelFor(v, ticks, labels) {
  const i = ticks.findIndex(t => Math.abs(t - v) < 1e-6);
  return i >= 0 ? labels[i] : null;
}

const framePlugin = {
  id: 'frame',
  afterDatasetsDraw(chart, args, o) {
    const {ctx, chartArea: a, scales: {x, y}} = chart;
    ctx.save();
    ctx.strokeStyle = '#000';
    ctx.lineWidth = o.tickWidth;
    ctx.beginPath();
    x.ticks.forEach(t => {
      const p = x.getPixelForValue(t.value);
      const L = o.xMajor.some(m => Math.abs(m - t.value) < 1e-6) ? o.major : o.minor;
      ctx.moveTo(p, a.bottom); ctx.lineTo(p, a.bottom - L);
      ctx.moveTo(p, a.top); ctx.lineTo(p, a.top + L);
    });
    y.ticks.forEach(t => {
      const p = y.getPixelForValue(t.value);
      const L = o.yMajor.some(m => Math.abs(m - t.value) < 1e-6) ? o.major : o.minor;
      ctx.moveTo(a.left, p); ctx.lineTo(a.left + L, p);
      ctx.moveTo(a.right, p); ctx.lineTo(a.right - L, p);
    });
    ctx.stroke();
    ctx.lineWidth = o.frameWidth;
    ctx.strokeRect(a.left, a.top, a.right - a.left, a.bottom - a.top);
    if (o.side) {
      ctx.fillStyle = '#000';
      ctx.font = '22px "Liberation Serif"';
      ctx.textAlign = 'center';
      ctx.textBaseline = 'middle';
      ctx.translate(a.left + o.side.dx, a.top + o.side.dy);
      ctx.rotate(-Math.PI / 2);
      ctx.fillText(o.side.text, 0, 0);
    }
    ctx.restore();
  }
};

const notesPlugin = {
  id: 'notes',
  afterDatasetsDraw(chart, args, o) {
    const {ctx, chartArea: a, scales: {x, y}} = chart;
    ctx.save();
    ctx.textBaseline = 'middle';
    ctx.fillStyle = '#000';
    ctx.textAlign = 'left';
    ctx.font = '26px "Liberation Serif"';
    ctx.fillText(o.title, a.left + o.titleDx, a.top + 35.5);
    ctx.textAlign = 'center';
    ctx.font = '27px "Liberation Sans"';
    ctx.fillText(o.panel, a.left + 47.5, a.top + 69.5);
    // top y label kept inside the page
    const top = labelFor(y.max, o.yTicks, o.yLabels);
    if (top) {
      ctx.textAlign = 'right';
      ctx.font = '22px "Liberation Sans"';
      ctx.fillText(top, a.left - o.yTickPad, a.top + 5);
    }
    // axis titles
    ctx.textAlign = 'center';
    ctx.font = '23px "Liberation Serif"';
    ctx.fillText('(FUV  \u2013  U)', (a.left + a.right) / 2, 693);
    ctx.save();
    ctx.translate(a.left - 78, (a.top + a.bottom) / 2);
    ctx.rotate(-Math.PI / 2);
    ctx.letterSpacing = '3.5px';
    ctx.fillText('(B  \u2013  3.6  \u03bcm)', 0, 0);
    ctx.restore();
    // region numerals
    ctx.font = '28px "Liberation Serif"';
    o.romanX.forEach((rx, i) => {
      ctx.fillStyle = regionColors[i];
      ctx.fillText(romanText[i], x.getPixelForValue(rx), y.getPixelForValue(o.romanY[i]));
    });
    // A_V = 0.2 label
    ctx.fillStyle = '#000';
    ctx.textAlign = 'left';
    let px = x.getPixelForValue(o.av[0]);
    const py = y.getPixelForValue(o.av[1]);
    ctx.font = '22px "Liberation Sans"';
    ctx.fillText('A', px, py);
    px += ctx.measureText('A').width;
    ctx.font = '15px "Liberation Sans"';
    ctx.fillText('V', px, py + 6);
    px += ctx.measureText('V').width + 1;
    ctx.font = '22px "Liberation Sans"';
    ctx.fillText('=0.2', px, py);
    ctx.restore();
  }
};

function mainChart(id, cfg) {
  const s = (arr, i, ord) => dots(arr, regionColors[i], cfg.r, ord);
  return new Chart(document.getElementById(id), {
    type: 'scatter',
    data: {datasets: [
      line(cfg.cuts, '#222', 1.6, [8, 5], 0),
      line(cfg.cuts2, '#222', 1.6, [8, 5], 0),
      line(cfg.arrow, '#FF0000', 1.8, [], 0),
      s(cfg.pts[5], 5, 1), s(cfg.pts[4], 4, 2), s(cfg.pts[3], 3, 3),
      s(cfg.pts[2], 2, 4), s(cfg.pts[1], 1, 5), s(cfg.pts[0], 0, 6),
      line(cfg.diag, '#222', 1.6, [8, 5], 10),
      line(cfg.brk, '#222', 1.6, [8, 5], 10)
    ]},
    options: {
      responsive: false, animation: false, devicePixelRatio: 1, events: [],
      layout: {padding: {left: 0, right: cfg.padRight, top: 6, bottom: 0}},
      plugins: {
        legend: {display: false}, tooltip: {enabled: false},
        frame: {tickWidth: 1.6, frameWidth: 2, major: 12, minor: 6, xMajor: cfg.xTicks, yMajor: cfg.yTicks},
        notes: {title: cfg.title, titleDx: cfg.titleDx, panel: cfg.panel, romanX: cfg.romanX, romanY: cfg.romanY,
                av: cfg.av, yTicks: cfg.yTicks, yLabels: cfg.yLabels, yTickPad: cfg.yTickPad}
      },
      scales: {
        x: {
          type: 'linear', min: cfg.xr[0], max: cfg.xr[1],
          grid: {display: false, drawTicks: false}, border: {display: false},
          ticks: {stepSize: cfg.xr[2], autoSkip: false, maxRotation: 0, padding: 13, color: '#000',
                  font: {family: 'Liberation Sans', size: 22},
                  callback: v => labelFor(v, cfg.xTicks, cfg.xLabels)},
          afterFit: sc => { sc.height = 58; sc.paddingLeft = 0; sc.paddingRight = 0; }
        },
        y: {
          type: 'linear', min: cfg.yr[0], max: cfg.yr[1],
          grid: {display: false, drawTicks: false}, border: {display: false},
          ticks: {stepSize: 0.1, autoSkip: false, padding: cfg.yTickPad, color: '#000',
                  font: {family: 'Liberation Sans', size: 22},
                  callback: v => Math.abs(v - cfg.yr[1]) < 1e-6 ? null : labelFor(v, cfg.yTicks, cfg.yLabels)},
          afterFit: sc => { sc.width = cfg.yWidth; sc.paddingTop = 0; sc.paddingBottom = 0; }
        }
      }
    },
    plugins: [framePlugin, notesPlugin]
  });
}

function insetChart(id, core, outer, xr, yr) {
  return new Chart(document.getElementById(id), {
    type: 'scatter',
    data: {datasets: [
      line([[0, yr[0]], [0, yr[1]]], '#000', 1.2, [1.5, 2.5], 0),
      dots(outer, '#000', 1.6, 1),
      dots(core, '#000', 3.6, 2)
    ]},
    options: {
      responsive: false, animation: false, devicePixelRatio: 1, events: [],
      layout: {padding: 2},
      plugins: {
        legend: {display: false}, tooltip: {enabled: false},
        frame: {tickWidth: 1, frameWidth: 1.3, major: 4, minor: 4, xMajor: [], yMajor: [],
                side: {text: 'BEFORE', dx: 20.5, dy: 56}}
      },
      scales: {
        x: {type: 'linear', display: false, min: xr[0], max: xr[1], ticks: {stepSize: xr[2]}},
        y: {type: 'linear', display: false, min: yr[0], max: yr[1], ticks: {stepSize: yr[2]}}
      }
    },
    plugins: [framePlugin]
  });
}

mainChart('ngc', {
  pts: [ngcI, ngcII, ngcIII, ngcIV, ngcV, ngcVI], r: 4.9,
  xr: [-0.3, 3.0, 0.1], yr: [1.0, 2.6],
  xTicks: ngcXTicks, xLabels: ngcXLabels, yTicks: ngcYTicks, yLabels: ngcYLabels,
  cuts: ngcCuts, cuts2: ngcCuts2, diag: ngcDiag, brk: ngcBreak, arrow: ngcArrow,
  romanX: ngcRomanX, romanY: ngcRomanY, av: [2.387, 1.1125],
  title: 'NGC 7320: AFTER Dust Correction', titleDx: 31, panel: '(a)',
  padRight: 34, yWidth: 94, yTickPad: 11
});
mainChart('ugc', {
  pts: [ugcI, ugcII, ugcIII, ugcIV, ugcV, ugcVI], r: 4.7,
  xr: [-1.5, 3.0, 0.2], yr: [0.5, 3.0],
  xTicks: ugcXTicks, xLabels: ugcXLabels, yTicks: ugcYTicks, yLabels: ugcYLabels,
  cuts: ugcCuts, cuts2: ugcCuts2, diag: ugcDiag, brk: ugcBreak, arrow: ugcArrow,
  romanX: ugcRomanX, romanY: ugcRomanY, av: [2.173, 0.684],
  title: 'UGC 10445: AFTER Dust Correction', titleDx: 33, panel: '(b)',
  padRight: 15, yWidth: 115, yTickPad: 9
});
insetChart('ngcIn', ngcBeforeCore, ngcBeforeOuter, [-0.3, 3.0, 0.35], [1.0, 2.6, 0.4]);
insetChart('ugcIn', ugcBeforeCore, ugcBeforeOuter, [-1.5, 3.0, 0.5], [0.5, 3.0, 0.4]);
</script>
</body>
</html>
